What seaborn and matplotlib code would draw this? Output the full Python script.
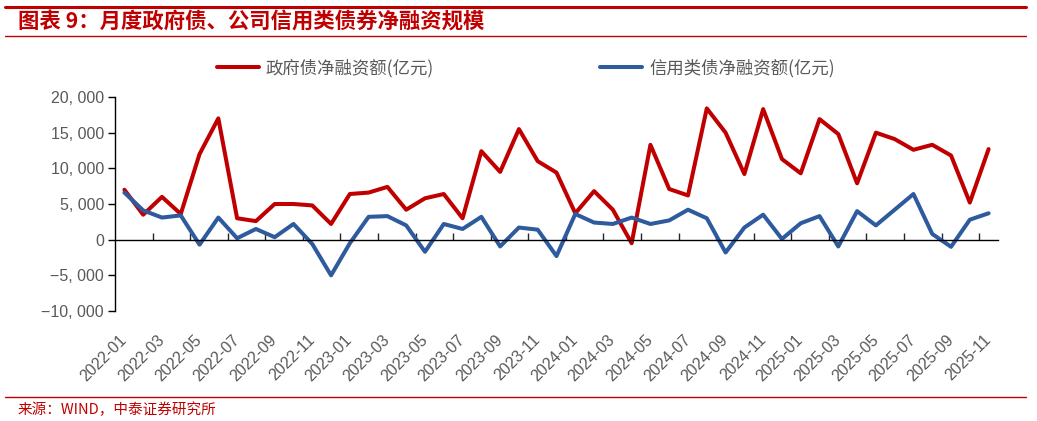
import pandas as pd
import numpy as np
import seaborn as sns
import matplotlib.pyplot as plt
from matplotlib.lines import Line2D
from matplotlib.ticker import FuncFormatter

months = pd.period_range("2022-01", "2025-11", freq="M").strftime("%Y-%m").tolist()

gov = [7000, 3500, 6000, 3600, 12000, 17000, 3000, 2600, 5000, 5000, 4800, 2200,
       6400, 6600, 7400, 4200, 5800, 6400, 3000, 12400, 9500, 15500, 11000, 9400,
       3700, 6800, 4200, -500, 13300, 7100, 6200, 18400, 15000, 9200, 18300, 11300,
       9300, 16900, 14800, 7900, 15000, 14100, 12600, 13300, 11800, 5200, 12700]
credit = [6600, 4100, 3100, 3400, -700, 3100, 200, 1500, 350, 2200, -600, -5000,
          -500, 3200, 3300, 2000, -1700, 2200, 1500, 3200, -950, 1700, 1400, -2300,
          3600, 2400, 2200, 3100, 2200, 2700, 4200, 3000, -1800, 1700, 3500, 100,
          2300, 3300, -950, 4000, 2000, 4200, 6400, 800, -1000, 2800, 3700]

names = ["政府债净融资额(亿元)", "信用类债净融资额(亿元)"]
colors = ["#C00000", "#2E5A9E"]

df = pd.DataFrame({"idx": np.arange(len(months)), names[0]: gov, names[1]: credit})
long_df = df.melt("idx", var_name="series", value_name="value")

sns.set_style("ticks")
plt.rcParams["font.family"] = ["Liberation Sans", "Noto Sans CJK SC", "DejaVu Sans"]
gray = "#595959"
cjk = ["Noto Sans CJK SC", "DejaVu Sans"]

fig = plt.figure(figsize=(10.37, 4.21), dpi=100)
ax = fig.add_axes([115 / 1037, 1 - 311 / 421, 883 / 1037, 214 / 421])

sns.lineplot(data=long_df, x="idx", y="value", hue="series", palette=colors,
             linewidth=2.9, ax=ax, legend=False)

ax.set_xlim(-0.5, len(months) - 0.5)
ax.set_ylim(-10000, 20000)
ax.set_yticks(np.arange(-10000, 20001, 5000))
ax.yaxis.set_major_formatter(FuncFormatter(
    lambda v, p: ("−" if v < 0 else "") + (f"{abs(int(v)):,}".replace(",", ", "))))
ax.tick_params(axis="y", direction="out", length=5, width=1, colors="black",
               labelcolor=gray, labelsize=11.5, pad=3)

ax.spines["top"].set_visible(False)
ax.spines["right"].set_visible(False)
ax.spines["bottom"].set_position(("data", 0))
for s in ["left", "bottom"]:
    ax.spines[s].set_color("black")
    ax.spines[s].set_linewidth(1.0)
ax.set_xticks(np.arange(1.5, len(months) - 1, 2))
ax.tick_params(axis="x", direction="in", length=5, width=1, labelbottom=False)
ax.set_xlabel("")
ax.set_ylabel("")

# month labels sit under the plot area, not on the zero line
sec = ax.secondary_xaxis("bottom")
sec.set_xticks(np.arange(0, len(months), 2), months[::2])
sec.tick_params(length=0, pad=19, labelsize=11.5, labelcolor=gray)
for lab in sec.get_xticklabels():
    lab.set_rotation(45)
    lab.set_ha("right")
    lab.set_va("center")
    lab.set_rotation_mode("anchor")
sec.spines["bottom"].set_visible(False)

handles = [Line2D([], [], color=c, linewidth=2.9) for c in colors]
fig.legend(handles, names, loc="center", bbox_to_anchor=(0.507, 1 - 68 / 421),
           ncol=2, frameon=False, handlelength=2.4, handletextpad=0.4,
           columnspacing=9.6, labelcolor=gray,
           prop={"family": cjk, "size": 12.5})

red = "#C00000"
fig.add_artist(Line2D([0.005, 0.989], [1 - 6.5 / 421] * 2, transform=fig.transFigure,
                      color=red, linewidth=2.2))
fig.add_artist(Line2D([0.005, 0.989], [1 - 35.5 / 421] * 2, transform=fig.transFigure,
                      color=red, linewidth=1.0))
fig.add_artist(Line2D([0.005, 0.989], [1 - 397 / 421] * 2, transform=fig.transFigure,
                      color=red, linewidth=1.0))

fig.text(18 / 1037, 1 - 22 / 421, "图表 9：月度政府债、公司信用类债券净融资规模",
         color=red, fontsize=15.4, fontweight="bold", va="center", ha="left",
         family=cjk)
fig.text(18 / 1037, 1 - 410 / 421, "来源：WIND，中泰证券研究所",
         color=red, fontsize=10.5, va="center", ha="left", family=cjk)

fig.savefig("out.png", dpi=100)
